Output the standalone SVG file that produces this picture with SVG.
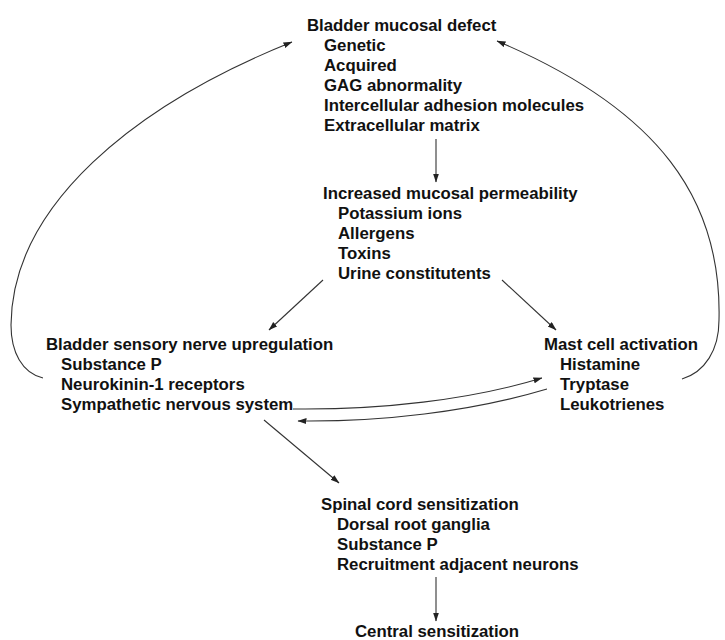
<svg xmlns="http://www.w3.org/2000/svg" width="725" height="640" viewBox="0 0 725 640">
  <style>
    text { font-family: "Liberation Sans", Arial, sans-serif; font-weight: bold; font-size: 16.8px; fill: #111; }
    .link { fill: none; stroke: #333; stroke-width: 1.1; marker-end: url(#arrow); }
    .plain { fill: none; stroke: #333; stroke-width: 1.1; }
  </style>
  <defs>
    <marker id="arrow" markerUnits="userSpaceOnUse" markerWidth="9" markerHeight="7" refX="8.5" refY="3" orient="auto">
      <path d="M0,0 L9,3 L0,6 Z" fill="#222"/>
    </marker>
  </defs>
  <rect width="725" height="640" fill="#fff"/>

  <!-- connectors -->
  <g id="connectors">
    <path class="link" d="M436,139 L436,182"/>
    <path class="link" d="M323,280 L269,330"/>
    <path class="link" d="M502,280 L556,330"/>
    <path class="link" d="M264,420 L339,483"/>
    <path class="link" d="M436,577 L436,621"/>
    <!-- feedback loop, left side -->
    <path class="link" d="M43,378 C22,373 11,352 11,325 C12,205 135,105 292,42"/>
    <!-- feedback loop, right side -->
    <path class="link" d="M682,379 C705,372 719,350 719,320 C722,200 660,110 497,41"/>
    <!-- nerve / mast cell cross-talk -->
    <path class="link" d="M293,409 C380,410 470,400 542,378"/>
    <path class="link" d="M547,389 C470,412 380,422 298,421"/>
  </g>

  <g id="mucosal-defect">
    <text x="307" y="31">Bladder mucosal defect</text>
    <text x="324" y="51">Genetic</text>
    <text x="324" y="71">Acquired</text>
    <text x="324" y="91">GAG abnormality</text>
    <text x="324" y="111">Intercellular adhesion molecules</text>
    <text x="324" y="131">Extracellular matrix</text>
  </g>

  <g id="permeability">
    <text x="323" y="199">Increased mucosal permeability</text>
    <text x="338" y="219">Potassium ions</text>
    <text x="338" y="239">Allergens</text>
    <text x="338" y="259">Toxins</text>
    <text x="338" y="279">Urine constitutents</text>
  </g>

  <g id="sensory-nerve">
    <text x="46" y="350">Bladder sensory nerve upregulation</text>
    <text x="61" y="370">Substance P</text>
    <text x="61" y="390">Neurokinin-1 receptors</text>
    <text x="61" y="410">Sympathetic nervous system</text>
  </g>

  <g id="mast-cell">
    <text x="544" y="350">Mast cell activation</text>
    <text x="560" y="370">Histamine</text>
    <text x="560" y="390">Tryptase</text>
    <text x="560" y="410">Leukotrienes</text>
  </g>

  <g id="spinal-cord">
    <text x="321" y="510">Spinal cord sensitization</text>
    <text x="337" y="530">Dorsal root ganglia</text>
    <text x="337" y="550">Substance P</text>
    <text x="337" y="570">Recruitment adjacent neurons</text>
  </g>

  <g id="central">
    <text x="355" y="637">Central sensitization</text>
  </g>
</svg>
